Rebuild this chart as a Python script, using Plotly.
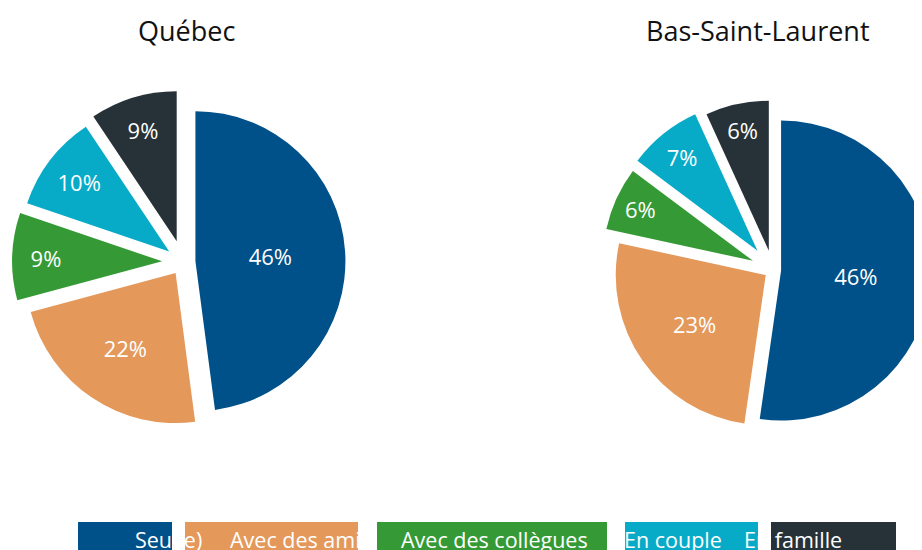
import plotly.graph_objects as go

categories = ["Seul(e)", "Avec des amis", "Avec des collègues", "En couple", "En famille"]
quebec_values = [46, 22, 9, 10, 9]
bsl_values = [46, 23, 6, 7, 6]
region_titles = ["Québec", "Bas-Saint-Laurent"]
colors = ["#005089", "#E4985A", "#359A35", "#07ABC8", "#273238"]

# slice offsets (fraction of radius)
quebec_pull = [0.083, 0.089, 0.139, 0.116, 0.145]
bsl_pull = [0.054, 0.059, 0.147, 0.165, 0.131]

W, H = 960, 560
OFF = 8  # page body margin
FONT = "Open Sans"
R = 150  # pie radius in px


def fx(px):
    return (px - OFF) / W


def fy(py):
    return 1 - (py - OFF) / H


def pie_domain(cx, cy, pulls):
    half = R * (1 + max(pulls))
    return dict(x=[max(0, fx(cx - half)), min(1, fx(cx + half))],
                y=[max(0, fy(cy + half)), min(1, fy(cy - half))])


fig = go.Figure()

common = dict(
    sort=False,
    direction="clockwise",
    rotation=0,
    marker=dict(colors=colors, line=dict(width=0)),
    texttemplate="%{value}%",
    textposition="inside",
    insidetextorientation="horizontal",
    textfont=dict(family=FONT, size=22, color="white"),
    showlegend=False,
    hoverinfo="label+value",
)

fig.add_trace(go.Pie(labels=categories, values=quebec_values, pull=quebec_pull,
                     domain=pie_domain(183, 262, quebec_pull), **common))
fig.add_trace(go.Pie(labels=categories, values=bsl_values, pull=bsl_pull,
                     domain=pie_domain(773, 270, bsl_pull), **common))

annotations = []
for t, xc in zip(region_titles, [186, 758]):
    annotations.append(dict(text=t, x=fx(xc), y=fy(31), xref="paper", yref="paper",
                            xanchor="center", yanchor="middle", showarrow=False,
                            font=dict(family=FONT, size=27, color="#111111")))

# legend boxes and labels (screen pixel positions)
box_x = [(78, 172), (185, 358), (377, 607), (625, 758), (771, 896)]
text_x = [133, 228, 399, 622, 742]
shapes = []
for (a, b), c in zip(box_x, colors):
    shapes.append(dict(type="rect", xref="paper", yref="paper",
                       x0=fx(a), x1=fx(b), y0=0, y1=fy(522),
                       fillcolor=c, line=dict(width=0), layer="above"))
for lab, tx in zip(categories, text_x):
    annotations.append(dict(text=lab, x=fx(tx), y=fy(539), xref="paper", yref="paper",
                            xanchor="left", yanchor="middle", showarrow=False,
                            font=dict(family=FONT, size=21.5, color="white")))

fig.update_layout(width=W, height=H, margin=dict(l=0, r=0, t=0, b=0),
                  paper_bgcolor="white", plot_bgcolor="white",
                  annotations=annotations, shapes=shapes)

fig.write_html("out.html")
